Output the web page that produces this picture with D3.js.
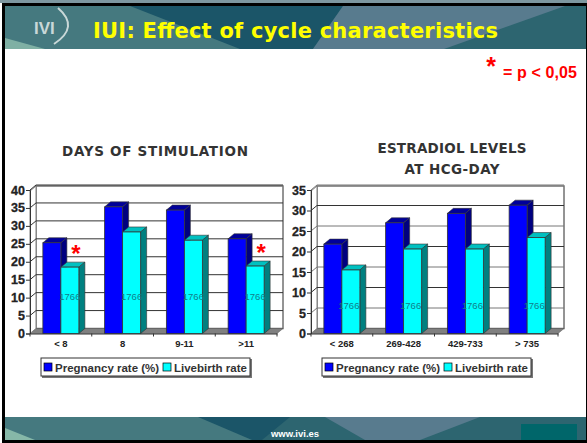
<!DOCTYPE html>
<html>
<head>
<meta charset="utf-8">
<script src="https://cdn.jsdelivr.net/npm/d3@7"></script>
<style>
html, body { margin: 0; padding: 0; background: #fff; overflow: hidden; }
svg { display: block; }
text { font-family: "Liberation Sans", Arial, sans-serif; }
</style>
</head>
<body>
<svg id="slide" width="587" height="443"></svg>
<script>
var seriesNames = ["Pregnancy rate (%)", "Livebirth rate"];

var stimCategories = ["< 8", "8", "9-11", ">11"];
var stimPregnancy = [25.3, 35.3, 34.4, 26.4];
var stimLivebirth = [18.5, 28.3, 26, 18.8];
var stimTicks = [0, 5, 10, 15, 20, 25, 30, 35, 40];

var e2Categories = ["< 268", "269-428", "429-733", "> 735"];
var e2Pregnancy = [21.8, 27, 29.3, 31.3];
var e2Livebirth = [15.5, 20.6, 20.6, 23.4];
var e2Ticks = [0, 5, 10, 15, 20, 25, 30, 35];

var barNote = "1766";

var DEPTH_X = 6, DEPTH_Y = 5;
var svg = d3.select("#slide");

//// slide background
function drawBand(y, h, shapes){
	var g = svg.append("g");
	g.append("rect").attr("x", 5).attr("y", y).attr("width", 581).attr("height", h).attr("fill", "#2d6570");
	shapes.forEach(function(s){
		g.append("polygon").attr("points", s.p.join(" ")).attr("fill", s.c);
	});
}
svg.append("rect").attr("width", 587).attr("height", 443).attr("fill", "#fff");
svg.append("rect").attr("width", 587).attr("height", 3).attr("fill", "#7d97a0");
svg.append("rect").attr("x", 2).attr("y", 3).attr("width", 585).attr("height", 440).attr("fill", "#000");
svg.append("rect").attr("x", 5).attr("y", 6).attr("width", 581).attr("height", 434).attr("fill", "#fff");
drawBand(6, 43, [
	{ c: "#45797f", p: [[5,6],[150,6],[250,49],[5,49]] },
	{ c: "#1b5568", p: [[130,6],[343,6],[313,49],[240,49]] },
	{ c: "#587b8e", p: [[343,6],[565,6],[444,49],[313,49]] },
	{ c: "#7fb0a4", p: [[5,38],[45,49],[5,49]] }
]);
drawBand(417, 23, [
	{ c: "#45797f", p: [[5,417],[200,417],[260,440],[5,440]] },
	{ c: "#1b5568", p: [[198,417],[290,417],[262,440],[252,440]] },
	{ c: "#587b8e", p: [[325,417],[480,417],[420,440],[365,440]] },
	{ c: "#86b8a8", p: [[5,428],[35,440],[5,440]] }
]);
svg.append("rect").attr("x", 521).attr("y", 424).attr("width", 56).attr("height", 16).attr("fill", "#00666a");

svg.append("text").attr("x", 34).attr("y", 34).attr("font-size", 17).attr("font-weight", "bold")
	.attr("fill", "#c9d8d8").text("IVI");
svg.append("path").attr("d", "M58 8 Q80 27 54 44").attr("fill", "none").attr("stroke", "#c9d8d8").attr("stroke-width", 2);

svg.append("text").attr("x", 93).attr("y", 38).attr("font-size", 21)
	.attr("font-weight", "bold").attr("fill", "#ffff00").style("font-family", "DejaVu Sans")
	.attr("textLength", 405).text("IUI: Effect of cycle characteristics");

svg.append("text").attr("x", 491).attr("y", 75).attr("text-anchor", "middle").attr("font-size", 25).attr("font-weight", "bold").attr("fill", "#ff0000").text("*");
svg.append("text").attr("x", 503).attr("y", 78).attr("font-size", 16).attr("font-weight", "bold").attr("fill", "#ff0000").attr("textLength", 74).text("= p < 0,05");

//// un graphique 3D
function drawChart(o){
	var x = d3.scaleBand().domain(o.categories).range([o.left, o.left + 247]).paddingInner(0.417).paddingOuter(0.2085);
	var y = d3.scaleLinear().domain([0, o.ymax]).range([333.5, 190]);
	var sub = d3.scaleBand().domain([0, 1]).range([0, x.bandwidth()]);
	var g = svg.append("g");

	// walls
	var wallTop = y(o.ymax) - DEPTH_Y + 1;
	var wl = o.left + DEPTH_X, wr = o.left + 247 + DEPTH_X;
	g.append("rect").attr("x", wl).attr("y", wallTop).attr("width", wr - wl).attr("height", y(0) - DEPTH_Y - wallTop)
		.attr("fill", "#fff").attr("stroke", "#707070").attr("stroke-width", 1.5);
	g.append("polygon").attr("points", [[o.left,y(0)],[wl,y(0)-DEPTH_Y],[wr,y(0)-DEPTH_Y],[wr-DEPTH_X,y(0)]].join(" "))
		.attr("fill", "#808080").attr("stroke", "#555").attr("stroke-width", 0.5);
	g.append("polygon").attr("points", [[o.left,y(0)],[wl,y(0)-DEPTH_Y],[wl,wallTop],[o.left,wallTop+DEPTH_Y]].join(" "))
		.attr("fill", "#fff").attr("stroke", "#808080").attr("stroke-width", 1);

	// grid
	o.ticks.slice(1).forEach(function(t){
		var dark = o.ymax == 40 || t % 10 == 0;
		g.append("path").attr("d", "M" + o.left + " " + y(t) + "L" + wl + " " + (y(t) - DEPTH_Y) + "H" + wr)
			.attr("fill", "none").attr("stroke", dark ? "#333" : "#777").attr("stroke-width", 1);
	});

	// axes
	var yAxis = d3.axisLeft(y).tickValues(o.ticks).tickSize(4).tickPadding(1);
	var ya = g.append("g").attr("transform", "translate(" + o.left + ",0)").call(yAxis);
	ya.selectAll("text").attr("font-size", 12.5).style("font-weight", "bold").attr("fill", "#222")
		.attr("stroke", "#222").attr("stroke-width", 0.3).style("font-family", "Liberation Sans");
	ya.selectAll("line, path").attr("stroke", "#333");

	var xAxis = d3.axisBottom(x).tickSize(0).tickPadding(7);
	var xa = g.append("g").attr("transform", "translate(0," + y(0) + ")").call(xAxis);
	xa.selectAll("text").attr("font-size", 9.5).attr("font-weight", "bold").attr("fill", "#222")
		.style("font-family", "Liberation Sans");
	xa.selectAll("path").attr("stroke", "#333");
	d3.range(5).forEach(function(i){
		g.append("line").attr("x1", o.left + i * x.step()).attr("x2", o.left + i * x.step())
			.attr("y1", y(0)).attr("y2", y(0) + 3).attr("stroke", "#333");
	});

	// bars
	var colors = [
		{ front: "#0000ff", top: "#00009a", side: "#000080" },
		{ front: "#00ffff", top: "#00c0c0", side: "#008080" }
	];
	[o.pregnancy, o.livebirth].forEach(function(vals, s){
		var c = colors[s];
		o.categories.forEach(function(cat, i){
			var bx = x(cat) + sub(s), bw = sub.bandwidth(), by = y(vals[i]), b0 = y(0);
			g.append("polygon").attr("points", [[bx,by],[bx+DEPTH_X,by-DEPTH_Y],[bx+bw+DEPTH_X,by-DEPTH_Y],[bx+bw,by]].join(" "))
				.attr("fill", c.top).attr("stroke", "#333").attr("stroke-width", 0.6);
			g.append("polygon").attr("points", [[bx+bw,by],[bx+bw+DEPTH_X,by-DEPTH_Y],[bx+bw+DEPTH_X,b0-DEPTH_Y],[bx+bw,b0]].join(" "))
				.attr("fill", c.side).attr("stroke", "#333").attr("stroke-width", 0.6);
			g.append("rect").attr("x", bx).attr("y", by).attr("width", bw).attr("height", b0 - by)
				.attr("fill", c.front).attr("stroke", "#333").attr("stroke-width", 0.8);
			if(s == 1){
				g.append("text").attr("x", bx + bw / 2 + o.noteDx).attr("y", o.noteY).attr("text-anchor", "middle")
					.attr("font-size", 9.5).attr("fill", "#10808a").text(barNote);
			}
		});
	});

	// stars
	o.stars.forEach(function(i){
		var cat = o.categories[i];
		svg.append("text").attr("x", x(cat) + x.bandwidth() * 0.75 + 6).attr("y", y(o.livebirth[i]) - 5)
			.attr("text-anchor", "middle").attr("font-size", 24).attr("font-weight", "bold").attr("fill", "#ff0000").text("*");
	});

	// legende
	var lg = svg.append("g").attr("transform", "translate(" + o.legendX + ",358)");
	lg.append("rect").attr("x", 1).attr("y", 1).attr("width", 210).attr("height", 19).attr("fill", "#777");
	lg.append("rect").attr("width", 209).attr("height", 18).attr("fill", "#fff").attr("stroke", "#333");
	var offs = [3, 122];
	seriesNames.forEach(function(n, i){
		lg.append("rect").attr("x", offs[i]).attr("y", 5).attr("width", 8).attr("height", 8)
			.attr("fill", colors[i].front).attr("stroke", "#000").attr("stroke-width", 0.7);
		lg.append("text").attr("x", offs[i] + 11).attr("y", 14).attr("font-size", 11.5).attr("font-weight", "bold")
			.attr("fill", "#333").text(n);
	});

	// titre
	o.title.forEach(function(line, i){
		svg.append("text").attr("x", o.titleX).attr("y", o.titleY + i * 21).attr("text-anchor", "middle")
			.attr("font-size", 13.5).attr("font-weight", "bold").attr("fill", "#333")
			.style("font-family", "DejaVu Sans").attr("textLength", o.titleLen[i]).text(line);
	});
}

drawChart({
	categories: stimCategories, pregnancy: stimPregnancy, livebirth: stimLivebirth,
	ymax: 40, ticks: stimTicks, left: 30, stars: [0, 3], legendX: 41, noteY: 299.5, noteDx: 0,
	title: ["DAYS OF STIMULATION"], titleLen: [186], titleX: 155, titleY: 156
});
drawChart({
	categories: e2Categories, pregnancy: e2Pregnancy, livebirth: e2Livebirth,
	ymax: 35, ticks: e2Ticks, left: 311, stars: [], legendX: 322, noteY: 308.5, noteDx: -2,
	title: ["ESTRADIOL LEVELS", "AT HCG-DAY"], titleLen: [149, 95], titleX: 452, titleY: 153
});

svg.append("text").attr("x", 295).attr("y", 437).attr("text-anchor", "middle").attr("font-size", 9.5)
	.attr("font-weight", "bold").attr("fill", "#fff").text("www.ivi.es");
</script>
</body>
</html>
